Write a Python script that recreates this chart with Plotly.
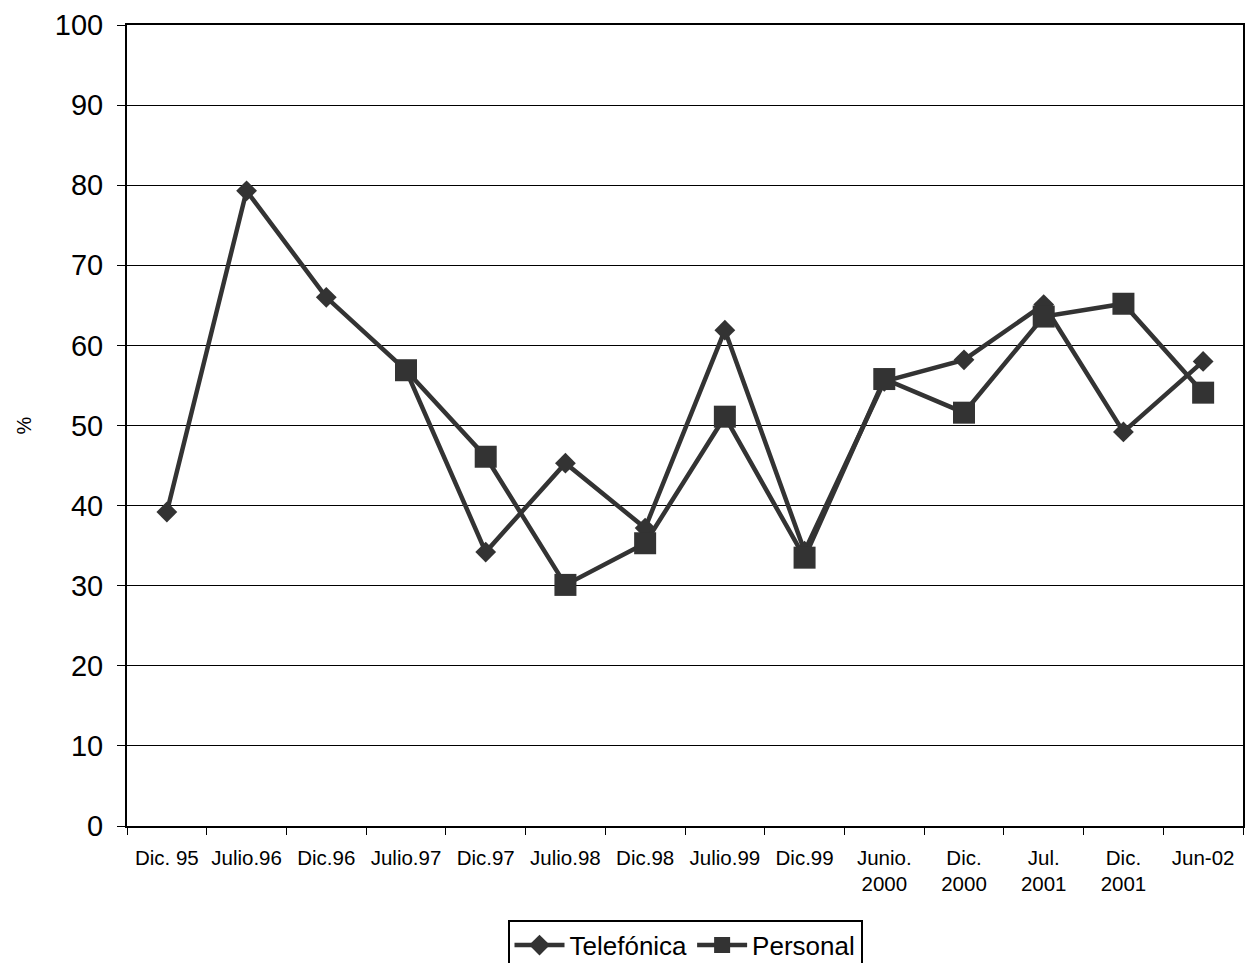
import plotly.graph_objects as go

periodos = ["Dic. 95", "Julio.96", "Dic.96", "Julio.97", "Dic.97", "Julio.98", "Dic.98",
            "Julio.99", "Dic.99", "Junio.<br>2000", "Dic.<br>2000", "Jul.<br>2001",
            "Dic.<br>2001", "Jun-02"]
telefonica = [39.2, 79.3, 66.0, 56.9, 34.2, 45.3, 37.2, 61.9, 34.3, 55.5, 58.2, 65.1, 49.2, 58.0]
personal = [None, None, None, 56.9, 46.1, 30.1, 35.3, 51.1, 33.5, 55.8, 51.6, 63.6, 65.2, 54.1]

fig = go.Figure()

fig.add_trace(go.Scatter(
    x=periodos, y=telefonica, name="Telefónica", mode="lines+markers",
    line=dict(color="#333333", width=4.5),
    marker=dict(symbol="diamond", size=16, color="#333333"),
))
fig.add_trace(go.Scatter(
    x=periodos, y=personal, name="Personal", mode="lines+markers",
    line=dict(color="#333333", width=4.5),
    marker=dict(symbol="square", size=22, color="#333333"),
))

fig.update_layout(
    width=1245, height=963,
    margin=dict(l=127, r=2, t=25, b=137),
    paper_bgcolor="white", plot_bgcolor="white",
    font=dict(family="Liberation Sans, Arial", color="black"),
    showlegend=True,
    # legend placed in container coords so it doesn't push the bottom margin
    legend=dict(orientation="h", x=0.5, xanchor="center",
                yref="container", y=0.045, yanchor="top",
                bordercolor="black", borderwidth=2, font=dict(size=26),
                itemwidth=50, tracegroupgap=0),
)

fig.update_xaxes(
    type="category", range=[-0.5, 13.5], tickson="boundaries", ticks="outside",
    ticklen=7, tickcolor="black", showline=True, linecolor="black", linewidth=2,
    mirror=True, showgrid=False, tickfont=dict(size=20.5), tickangle=0,
    ticklabelstandoff=12, automargin=False,
)
fig.update_yaxes(
    range=[0, 100], dtick=10, ticks="outside", ticklen=8, tickcolor="black",
    showline=True, linecolor="black", linewidth=2, mirror=True,
    showgrid=True, gridcolor="black", gridwidth=1, zeroline=False,
    tickfont=dict(size=29), automargin=False, ticklabelstandoff=8,
    title=dict(text="%", font=dict(size=20), standoff=18),
)

# drop the default 8px body margin so the figure fills the window exactly
fig.write_html("out.html", config={"displayModeBar": False},
               post_script="document.body.style.margin='0';")
